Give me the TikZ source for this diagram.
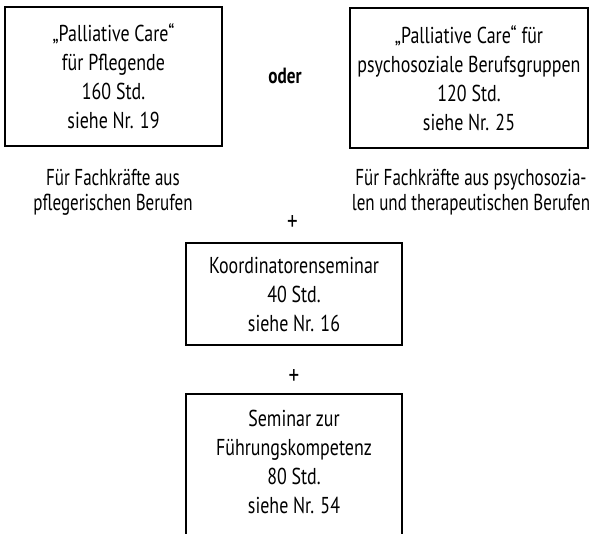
\documentclass[tikz,border=0pt]{standalone}
\usepackage{fontspec}
\setmainfont{PT Sans}[FakeStretch=0.78]
\newfontfamily\notefont{PT Sans}[FakeStretch=0.74]
\begin{document}
\begin{tikzpicture}[x=1pt,y=-1pt,
  boxtxt/.style={align=center, inner sep=0pt, font=\fontsize{23}{29}\selectfont},
  box/.style={boxtxt, draw, line width=1.1pt},
  note/.style={align=center, inner sep=0pt, font=\notefont\fontsize{23}{25}\selectfont},
  plus/.style={inner sep=0pt, font=\fontsize{27}{27}\selectfont}]
\useasboundingbox (0,0) rectangle (596,533);
\clip (0,0) rectangle (596,533);
\node[box, minimum width=217pt, minimum height=139pt] (b1) at (113.5,76.5) {„Palliative Care“\\für Pflegende\\160 Std.\\siehe Nr. 19};
\node[box, minimum width=238pt, minimum height=140pt] (b2) at (469,78) {„Palliative Care“ für\\psychosoziale Berufsgruppen\\120 Std.\\siehe Nr. 25};
\node[inner sep=0pt, font=\fontsize{22}{22}\selectfont\bfseries] (oder) at (285,76) {oder};
\node[note] (n1) at (113,192) {Für Fachkräfte aus\\pflegerischen Berufen};
\node[note] (n2) at (471,192) {Für Fachkräfte aus psychosozia-\\len und therapeutischen Berufen};
\node[plus] (p1) at (292.5,223) {+};
\node[box, minimum width=216pt, minimum height=102pt] (b3) at (294,294) {Koordinatorenseminar\\40 Std.\\siehe Nr. 16};
\node[plus] (p2) at (294,377) {+};
\node[boxtxt] (b4) at (294,462) {Seminar zur\\Führungskompetenz\\80 Std.\\siehe Nr. 54};
\draw[line width=1.1pt] (186,394) rectangle (402,560);
\end{tikzpicture}
\end{document}
